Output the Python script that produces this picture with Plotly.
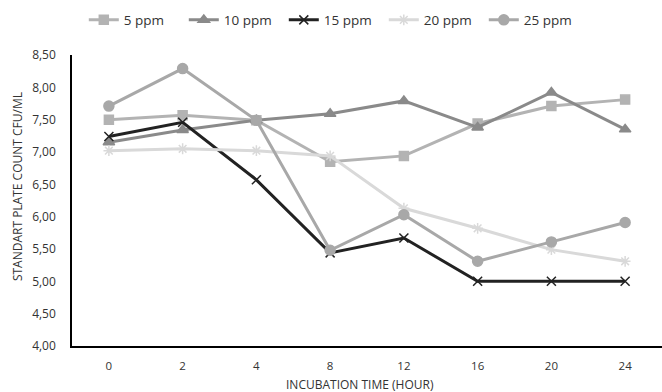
import plotly.graph_objects as go

hours = ["0", "2", "4", "8", "12", "16", "20", "24"]
ppm5 = [7.50, 7.57, 7.49, 6.85, 6.94, 7.44, 7.71, 7.81]
ppm10 = [7.15, 7.34, 7.49, 7.59, 7.79, 7.38, 7.92, 7.35]
ppm15 = [7.24, 7.46, 6.57, 5.44, 5.67, 5.00, 5.00, 5.00]
ppm20 = [7.02, 7.05, 7.02, 6.94, 6.13, 5.82, 5.49, 5.31]
ppm25 = [7.71, 8.29, 7.49, 5.48, 6.03, 5.31, 5.61, 5.91]

series = [
    ("5 ppm", ppm5, "#b3b3b3", "square", "#b3b3b3", 9),
    ("10 ppm", ppm10, "#8a8a8a", "triangle-up", "#8a8a8a", 10),
    ("15 ppm", ppm15, "#222222", "x-thin-open", "#222222", 9),
    ("20 ppm", ppm20, "#d9d9d9", "asterisk-open", "#d9d9d9", 9),
    ("25 ppm", ppm25, "#a8a8a8", "circle", "#a8a8a8", 10),
]

fig = go.Figure()
for name, vals, col, sym, mcol, ms in series:
    fig.add_trace(go.Scatter(
        x=hours, y=vals, name=name, mode="lines+markers",
        line=dict(color=col, width=3),
        marker=dict(symbol=sym, size=ms, color=mcol,
                    line=dict(color=mcol, width=1.5)),
    ))

txt = "#333333"
fig.update_layout(
    width=662, height=392,
    margin=dict(l=72, r=0, t=55, b=46),
    paper_bgcolor="white", plot_bgcolor="white",
    separators=",.",
    font=dict(family="Open Sans, sans-serif", size=12, color=txt),
    showlegend=True,
    legend=dict(orientation="h", x=0.02, y=1.12, xanchor="left", yanchor="middle",
                font=dict(size=13.5, color=txt), itemwidth=30,
                entrywidth=55, entrywidthmode="pixels",
                traceorder="normal"),
    xaxis=dict(type="category", range=[-0.5, 7.5], showgrid=False,
               showline=True, linecolor="#000000", linewidth=1.5,
               ticks="", ticklabelstandoff=8,
               tickfont=dict(size=11.5, color=txt)),
    yaxis=dict(range=[4.0, 8.5], tickvals=[4, 4.5, 5, 5.5, 6, 6.5, 7, 7.5, 8, 8.5],
               tickformat=".2f", showgrid=False, zeroline=False,
               showline=True, linecolor="#000000", linewidth=1.5,
               ticks="", ticklabelstandoff=12,
               tickfont=dict(size=12, color=txt)),
    annotations=[
        dict(text="INCUBATION TIME (HOUR)", xref="paper", yref="paper",
             x=0.488, y=-0.134, xanchor="center", yanchor="middle",
             showarrow=False, font=dict(size=12, color=txt)),
        dict(text="STANDART PLATE COUNT CFU/ML", xref="paper", yref="paper",
             x=0, xshift=-55, y=0.546, xanchor="center", yanchor="middle",
             textangle=-90, showarrow=False, font=dict(size=12, color=txt)),
    ],
)

fig.write_html("out.html")
